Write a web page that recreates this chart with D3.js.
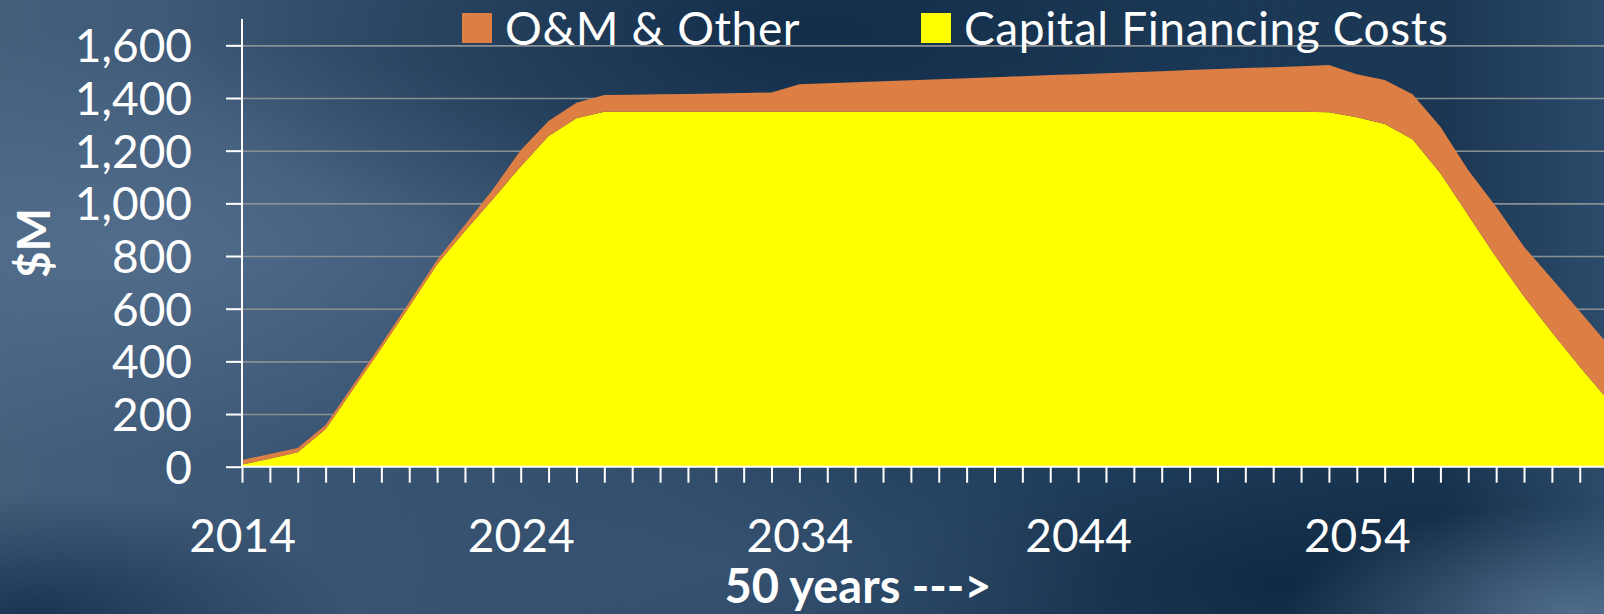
<!DOCTYPE html>
<html>
<head>
<meta charset="utf-8">
<script src="https://cdn.jsdelivr.net/npm/d3@7"></script>
<style>
  body { margin: 0; overflow: hidden; background: #2a4563; }
  text { font-family: Lato, "Open Sans", sans-serif; fill: #fff; }
</style>
</head>
<body>
<div id="chart"></div>
<script>
// years on the category axis
const years = [2014, 2015, 2016, 2017, 2018, 2019, 2020, 2021, 2022, 2023,
  2024, 2025, 2026, 2027, 2028, 2029, 2030, 2031, 2032, 2033,
  2034, 2035, 2036, 2037, 2038, 2039, 2040, 2041, 2042, 2043,
  2044, 2045, 2046, 2047, 2048, 2049, 2050, 2051, 2052, 2053,
  2054, 2055, 2056, 2057, 2058, 2059, 2060, 2061, 2062, 2063];

// Capital Financing Costs ($M)
const capital = [8, 30, 55, 142, 296, 450, 607, 768, 895, 1016,
  1140, 1256, 1323, 1348, 1348, 1348, 1348, 1348, 1348, 1348,
  1348, 1348, 1348, 1348, 1348, 1348, 1348, 1348, 1348, 1348,
  1348, 1348, 1348, 1348, 1348, 1348, 1348, 1348, 1348, 1346,
  1327, 1301, 1243, 1114, 955, 795, 646, 511, 380, 255];

// O&M & Other ($M)
const omOther = [17, 18, 16, 16, 16, 16, 17, 17, 24, 37,
  62, 57, 59, 63, 64, 66, 67, 69, 71, 73,
  104, 108, 112, 116, 119, 123, 127, 131, 135, 139,
  142, 146, 150, 154, 158, 162, 166, 169, 173, 179,
  163, 167, 171, 177, 171, 192, 189, 203, 210, 211];

const yTicks = [0, 200, 400, 600, 800, 1000, 1200, 1400, 1600];
const xLabelYears = [2014, 2024, 2034, 2044, 2054];

const seriesNames = ["O&M & Other", "Capital Financing Costs"];
const colors = { om: "#dd7f45", capital: "#ffff00" };

//chart size
const width = 1604;
const height = 614;
const plot = { left: 242, bottom: 466.7, top: 19, step: 27.87 };

const svg = d3.select("#chart")
  .append("svg")
  .attr("width", width)
  .attr("height", height);

// background: stormy blue
const defs = svg.append("defs");
const bg = defs.append("linearGradient").attr("id", "bg")
  .attr("x1", 0).attr("x2", 1).attr("y1", 0).attr("y2", 0);
[["0", "#445f7c"], ["0.2", "#3a5573"], ["0.4", "#314c6a"], ["0.55", "#22405e"],
 ["0.75", "#203e5d"], ["0.9", "#1a3653"], ["1", "#2c4b6a"]]
  .forEach(s => bg.append("stop").attr("offset", s[0]).attr("stop-color", s[1]));

function radial(id, cx, cy, r, color, op) {
  const g = defs.append("radialGradient").attr("id", id)
    .attr("cx", cx).attr("cy", cy).attr("r", r);
  g.append("stop").attr("offset", 0).attr("stop-color", color).attr("stop-opacity", op);
  g.append("stop").attr("offset", 1).attr("stop-color", color).attr("stop-opacity", 0);
}
radial("glow", 0.08, 0.4, 0.35, "#5a7593", 0.7);
radial("dark", 0.5, 0.05, 0.4, "#0d2843", 0.8);
radial("darkRight", 0.8, 0.95, 0.25, "#0b2239", 0.7);
radial("lowLeft", 0.02, 1, 0.2, "#12294a", 0.8);
radial("lowRight", 0.98, 1, 0.18, "#5a7796", 0.8);
radial("midLow", 0.45, 0.92, 0.25, "#3d5877", 0.6);

["bg", "glow", "dark", "darkRight", "lowLeft", "lowRight", "midLow"].forEach(id => {
  svg.append("rect").attr("width", width).attr("height", height).attr("fill", `url(#${id})`);
});

// scales
const xScale = d3.scaleLinear()
  .domain([years[0], years[years.length - 1]])
  .range([plot.left, plot.left + plot.step * (years.length - 1)]);

const yScale = d3.scaleLinear()
  .domain([0, 1700])
  .range([plot.bottom, plot.top]);

// gridlines
svg.append("g")
  .attr("transform", `translate(${plot.left},0)`)
  .call(d3.axisLeft(yScale).tickValues(yTicks.slice(1)).tickSize(-(width - plot.left)).tickFormat(""))
  .call(g => g.select(".domain").remove())
  .selectAll("line")
  .attr("stroke", "#8a8f94")
  .attr("stroke-width", 1.6);

// stacked areas
const table = years.map((yr, i) => ({ year: yr, capital: capital[i], om: omOther[i] }));
const stack = d3.stack().keys(["capital", "om"]);
const layers = stack(table);

const area = d3.area()
  .x(d => xScale(d.data.year))
  .y0(d => yScale(d[0]))
  .y1(d => yScale(d[1]));

svg.selectAll(".layer")
  .data(layers)
  .enter().append("path")
  .attr("class", "layer")
  .attr("fill", d => colors[d.key])
  .attr("d", area);

// y-axis
const yAxis = svg.append("g")
  .attr("transform", `translate(${plot.left},0)`)
  .call(d3.axisLeft(yScale).tickValues(yTicks).tickSize(16).tickPadding(34).tickFormat(d3.format(",")));
yAxis.select(".domain")
  .attr("d", `M0,${yScale(1700)}V${plot.bottom}`)
  .attr("stroke", "#fff").attr("stroke-width", 2);
yAxis.selectAll("line").attr("stroke", "#fff").attr("stroke-width", 2);
yAxis.selectAll("text")
  .attr("fill", "#fff")
  .style("font-size", "46px")
  .attr("dy", "0.36em");

// x-axis
const xAxis = svg.append("g")
  .attr("transform", `translate(0,${plot.bottom})`)
  .call(d3.axisBottom(xScale).tickValues(years).tickSize(16).tickPadding(20)
    .tickFormat(d => xLabelYears.includes(d) ? String(d) : ""));
xAxis.select(".domain")
  .attr("d", `M${plot.left},0H${width}`)
  .attr("stroke", "#fff").attr("stroke-width", 2);
xAxis.selectAll("line").attr("stroke", "#fff").attr("stroke-width", 2);
xAxis.selectAll("text")
  .attr("fill", "#fff")
  .style("font-size", "46px")
  .attr("y", 85)
  .attr("dy", 0);

// axis titles
svg.append("text")
  .attr("transform", "translate(50,243) rotate(-90)")
  .attr("text-anchor", "middle")
  .style("font-size", "46px")
  .style("font-weight", "bold")
  .text("$M");

svg.append("text")
  .attr("x", 858)
  .attr("y", 603)
  .attr("text-anchor", "middle")
  .style("font-size", "47px")
  .style("font-weight", "bold")
  .text("50 years --->");

// legend
const legendItems = [
  { name: seriesNames[0], color: colors.om, x: 462, tx: 505 },
  { name: seriesNames[1], color: colors.capital, x: 921, tx: 964 }
];
const legend = svg.selectAll(".legend")
  .data(legendItems)
  .enter().append("g")
  .attr("class", "legend");
legend.append("rect")
  .attr("x", d => d.x).attr("y", 13)
  .attr("width", 30).attr("height", 30)
  .attr("fill", d => d.color);
legend.append("text")
  .attr("x", d => d.tx).attr("y", 45)
  .style("font-size", "46px")
  .style("letter-spacing", "0.6px")
  .text(d => d.name);
</script>
</body>
</html>
